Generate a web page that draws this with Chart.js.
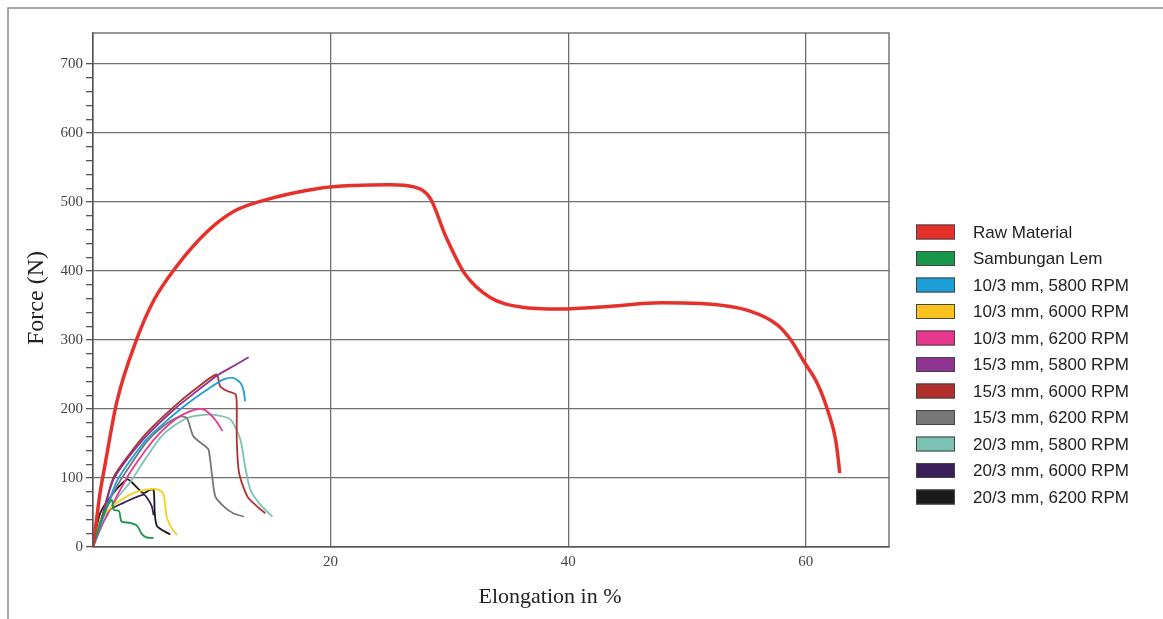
<!DOCTYPE html>
<html>
<head>
<meta charset="utf-8">
<title>Force vs Elongation</title>
<script src="https://cdn.jsdelivr.net/npm/chart.js@4.4.1/dist/chart.umd.min.js"></script>
<style>
  body{margin:0;background:#fff;}
  #chart{display:block;}
</style>
</head>
<body>
<canvas id="chart" width="1163" height="619"></canvas>
<script>
// legend order
const seriesNames = [
  'Raw Material', 'Sambungan Lem',
  '10/3 mm, 5800 RPM', '10/3 mm, 6000 RPM', '10/3 mm, 6200 RPM',
  '15/3 mm, 5800 RPM', '15/3 mm, 6000 RPM', '15/3 mm, 6200 RPM',
  '20/3 mm, 5800 RPM', '20/3 mm, 6000 RPM', '20/3 mm, 6200 RPM'
];
const seriesColors = [
  '#e5312c', '#17964a', '#1e9ed8', '#f2d21e', '#e6398e',
  '#8e3391', '#b1302c', '#777777', '#7cc2b3', '#3b1f5a', '#1b1b1b'
];
const legendColors = [
  '#e5312c', '#17964a', '#1e9ed8', '#fcc31f', '#e6398e',
  '#8e3391', '#b1302c', '#777777', '#7cc2b3', '#3b1f5a', '#1b1b1b'
];

// curves: [elongation %, force N]
const rawMaterial = [[0,0],[0.3,40],[0.6,79],[1.0,118],[2.0,210],[3.7,302],[5.1,357],[7.0,406],[9.6,457],[11.8,486],[14.3,502],[19.1,520],[22,524],[25,525],[27,522],[28.4,505],[29.7,450],[31.3,396],[33.4,362],[36,348],[39.3,345],[43.6,349],[47.8,354],[51.1,353],[55.3,342],[57.6,322],[58.7,301],[59.8,270],[61,236],[61.9,195],[62.5,156],[62.75,124],[62.85,107]];
const sambunganLem = [[0,0],[0.7,40],[1.3,62],[1.6,68],[1.75,54],[2.2,52],[2.4,37],[3.1,35],[3.7,31],[4.1,19],[4.5,14],[5.1,13]];
const s10_5800 = [[0,0],[1,50],[2,95],[3,122],[4.5,156],[6,180],[7.3,199],[8.5,215],[9.6,228],[11.0,243],[11.8,245],[12.4,238],[12.7,225],[12.8,211]];
const s10_6000 = [[0,0],[0.6,37],[1.2,52],[2.0,64],[3.4,78],[4.5,83],[5.3,84],[5.9,78],[6.2,44],[6.6,28],[7.06,17]];
const s10_6200 = [[0,0],[0.7,30],[1.3,50],[2.3,83],[3.2,110],[4.5,142],[5.5,163],[7,186],[8.2,197],[9.2,200],[9.7,195],[10.4,182],[10.9,168]];
const s15_5800 = [[0,0],[0.8,45],[1.7,97],[3,130],[4.5,161],[6.8,199],[8.75,226],[10.4,248],[11.8,262],[13.1,275]];
const s15_6000 = [[0,0],[0.8,47],[1.7,100],[3,133],[4.5,165],[6.8,203],[8.7,230],[10.4,250],[10.7,233],[11.3,226],[12.0,221],[12.1,204],[12.1,156],[12.3,107],[13.0,73],[13.8,59],[14.5,49]];
const s15_6200 = [[0,0],[1,52],[2,88],[3,115],[4.5,152],[5.9,175],[7.3,189],[7.9,187],[8.46,160],[9.45,146],[9.73,141],[10.0,107],[10.3,73],[11.0,59],[11.8,49],[12.7,44]];
const s20_5800 = [[0,0],[1,40],[2,70],[3.1,93],[4.5,130],[5.9,163],[7.9,187],[9.6,192],[10.4,191],[11.56,185],[12.4,156],[12.8,117],[13.25,83],[14.1,61],[15.1,44]];
const s20_6000 = [[0,0],[0.5,30],[1.15,51],[2.56,64],[4.25,76],[4.6,70],[4.95,59],[5.1,46]];
const s20_6200 = [[0,0],[0.6,49],[1.7,78],[2.84,98],[3.2,95],[4.25,78],[4.8,83],[5.1,83],[5.2,49],[5.4,30],[6.5,18]];

const seriesData = [rawMaterial, sambunganLem, s10_5800, s10_6000, s10_6200,
  s15_5800, s15_6000, s15_6200, s20_5800, s20_6000, s20_6200];

// axis ticks
const xTicks = [20, 40, 60];
const yLabels = [0, 100, 200, 300, 400, 500, 600, 700];

const serif = '"Liberation Serif", "Times New Roman", serif';

const extras = {
  id: 'extras',
  beforeDraw(chart){
    const c = chart.ctx;
    c.save();
    c.strokeStyle = '#8a8a8a';
    c.lineWidth = 1.5;
    c.beginPath();
    c.moveTo(8, 619); c.lineTo(8, 8); c.lineTo(1163, 8);
    c.stroke();
    c.restore();
  },
  afterDraw(chart){
    const c = chart.ctx, a = chart.chartArea;
    c.save();
    c.strokeStyle = '#555';
    c.lineWidth = 1.2;
    c.strokeRect(a.left, a.top, a.right - a.left, a.bottom - a.top);

    // axis titles
    c.fillStyle = '#222';
    c.textAlign = 'center';
    c.textBaseline = 'middle';
    c.font = '22px ' + serif;
    c.fillText('Elongation in %', 550, 597);
    c.save();
    c.translate(37, 298);
    c.rotate(-Math.PI / 2);
    c.font = '24px ' + serif;
    c.fillText('Force (N)', 0, 0);
    c.restore();

    // legend
    c.textAlign = 'left';
    c.font = '17px "Liberation Sans", Arial, sans-serif';
    c.lineWidth = 1;
    chart.data.datasets.forEach((ds, i) => {
      const y = 232 + i * 26.5;
      c.fillStyle = legendColors[i];
      c.fillRect(916, y - 7.5, 39, 15);
      c.strokeStyle = '#444';
      c.strokeRect(916.5, y - 7, 38, 14);
      c.fillStyle = '#222';
      c.fillText(ds.label, 973, y + 1);
    });
    c.restore();
  }
};

const ctx = document.getElementById('chart').getContext('2d');
const chart = new Chart(ctx, {
  type: 'scatter',
  data: {
    datasets: seriesNames.map((name, i) => ({
      label: name,
      data: seriesData[i].map(p => ({x: p[0], y: p[1]})),
      showLine: true,
      borderColor: seriesColors[i],
      backgroundColor: seriesColors[i],
      borderWidth: i === 0 ? 3.5 : 1.8,
      pointRadius: 0,
      tension: i === 0 ? 0.4 : 0.25,
      cubicInterpolationMode: i === 0 ? 'monotone' : 'default',
      order: i === 0 ? 0 : 1
    }))
  },
  options: {
    responsive: false,
    animation: false,
    devicePixelRatio: 1,
    layout: {padding: {top: 33, right: 274, left: 0, bottom: 0}},
    plugins: {
      legend: {display: false},
      tooltip: {enabled: false}
    },
    scales: {
      x: {
        type: 'linear',
        min: 0,
        max: 67,
        afterFit: s => { s.height = 72; },
        afterBuildTicks: s => { s.ticks = xTicks.map(v => ({value: v})); },
        grid: {
          color: '#6f6f6f',
          lineWidth: 1.3,
          drawTicks: false
        },
        border: {color: '#555', width: 1.2},
        ticks: {
          padding: 6,
          autoSkip: false,
          maxRotation: 0,
          color: '#444',
          font: {family: serif, size: 15}
        }
      },
      y: {
        min: 0,
        max: 745,
        afterFit: s => { s.width = 93; },
        afterBuildTicks: s => {
          const t = [];
          for (let v = 0; v <= 700; v += 20) t.push({value: v});
          s.ticks = t;
        },
        grid: {
          color: c => (c.tick && c.tick.value % 100 === 0 && c.tick.value > 0) ? '#6f6f6f' : 'transparent',
          tickColor: '#555',
          tickLength: 7,
          lineWidth: 1.3
        },
        border: {color: '#555', width: 1.2},
        ticks: {
          padding: 3,
          autoSkip: false,
          color: '#444',
          font: {family: serif, size: 15},
          callback: v => yLabels.includes(v) ? v : ''
        }
      }
    }
  },
  plugins: [extras]
});
</script>
</body>
</html>
